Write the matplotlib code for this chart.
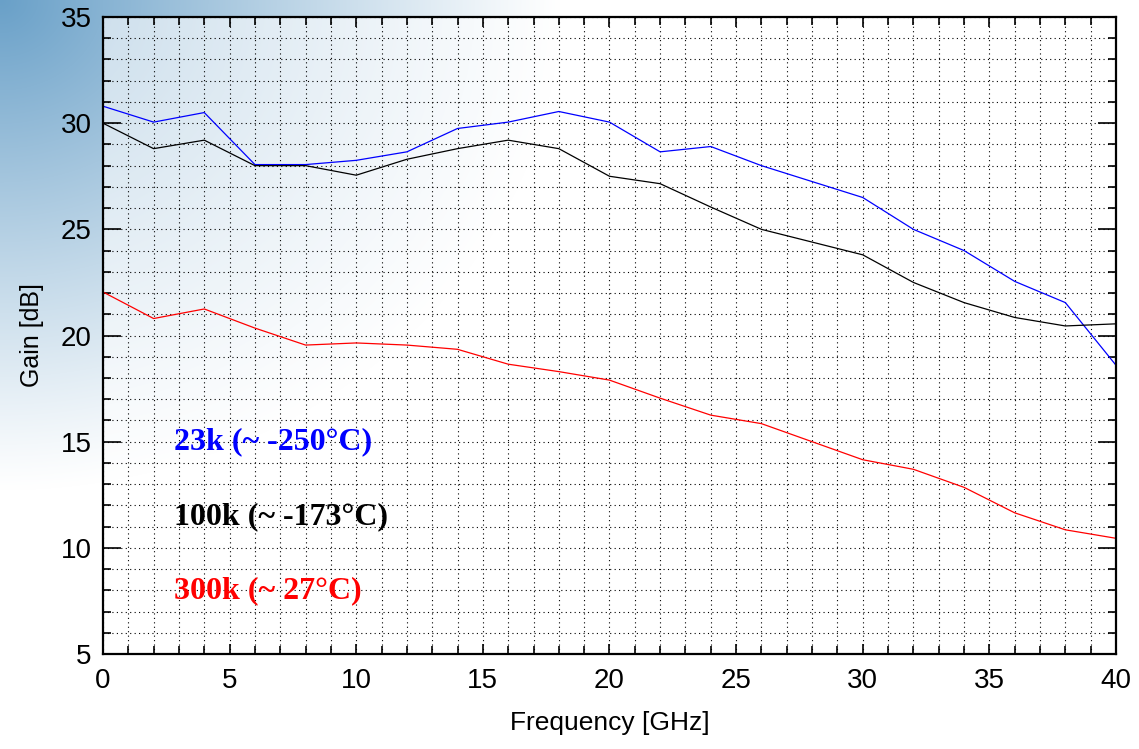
import numpy as np
import matplotlib
matplotlib.use("Agg")
import matplotlib.pyplot as plt

# frequency points (GHz)
freq = [0, 2, 4, 6, 8, 10, 12, 14, 16, 18, 20, 22, 24, 26, 28, 30, 32, 34, 36, 38, 40]

# gain curves (dB)
gain_23k = [30.8, 30.05, 30.5, 28.05, 28.05, 28.25, 28.65, 29.75, 30.05, 30.55, 30.05,
            28.65, 28.9, 28.0, 27.25, 26.5, 25.0, 24.0, 22.55, 21.55, 18.6]
gain_100k = [30.0, 28.8, 29.2, 28.0, 28.0, 27.55, 28.3, 28.8, 29.2, 28.8, 27.5,
             27.15, 26.05, 25.0, 24.4, 23.8, 22.5, 21.55, 20.85, 20.45, 20.55]
gain_300k = [22.05, 20.8, 21.25, 20.35, 19.55, 19.65, 19.55, 19.35, 18.65, 18.3, 17.9,
             17.05, 16.25, 15.85, 15.0, 14.15, 13.7, 12.85, 11.65, 10.85, 10.45]

labels = ["23k (~ -250°C)", "100k (~ -173°C)", "300k (~ 27°C)"]
colors = ["#0000ff", "#000000", "#ff0000"]
label_y = [15.0, 11.45, 8.0]

fig = plt.figure(figsize=(11.39, 7.49), dpi=100)

# background gradient in the top-left corner
bg = fig.add_axes([0, 0, 1, 1], zorder=0)
h, w = 749, 1139
yy, xx = np.mgrid[0:h, 0:w]
d = np.sqrt((xx / 560.0) ** 2 + (yy / 490.0) ** 2)
a = np.clip(1 - d, 0, 1) ** 1.1
base = np.array([105, 160, 200]) / 255.0
img = np.ones((h, w, 3)) * (1 - a[..., None]) + base * a[..., None]
bg.imshow(img, aspect="auto", extent=[0, 1, 0, 1], origin="upper")
bg.axis("off")

ax = fig.add_axes([0.0904, 0.1268, 0.8894, 0.8505], zorder=1)
ax.set_facecolor((1, 1, 1, 0.6))

ax.plot(freq, gain_23k, color=colors[0], lw=0.9)
ax.plot(freq, gain_100k, color=colors[1], lw=0.9)
ax.plot(freq, gain_300k, color=colors[2], lw=0.9)

for txt, c, yv in zip(labels, colors, label_y):
    ax.text(2.8, yv, txt, color=c, fontsize=23, fontweight="bold",
            family="Liberation Serif", va="center", ha="left")

ax.set_xlim(0, 40)
ax.set_ylim(5, 35)
ax.set_xticks(np.arange(0, 41, 5))
ax.set_yticks(np.arange(5, 36, 5))
ax.set_xticks(np.arange(0, 41, 1), minor=True)
ax.set_yticks(np.arange(5, 36, 1), minor=True)

ax.grid(True, which="both", color="black", linestyle=(0, (1, 3)), linewidth=0.8)
ax.tick_params(which="both", direction="in", top=True, right=True, width=1.2)
ax.tick_params(axis="x", which="major", length=7, labelsize=20, pad=10)
ax.tick_params(axis="x", which="minor", length=6)
ax.tick_params(axis="y", which="major", length=13, labelsize=20, pad=8)
ax.tick_params(axis="y", which="minor", length=6)
for lab in ax.get_xticklabels() + ax.get_yticklabels():
    lab.set_family("Liberation Sans")

for s in ax.spines.values():
    s.set_linewidth(1.6)

ax.set_xlabel("Frequency [GHz]", fontsize=19, family="Liberation Sans", labelpad=12)
ax.set_ylabel("Gain [dB]", fontsize=18, family="Liberation Sans", labelpad=12)

fig.savefig("out.png", dpi=100)
